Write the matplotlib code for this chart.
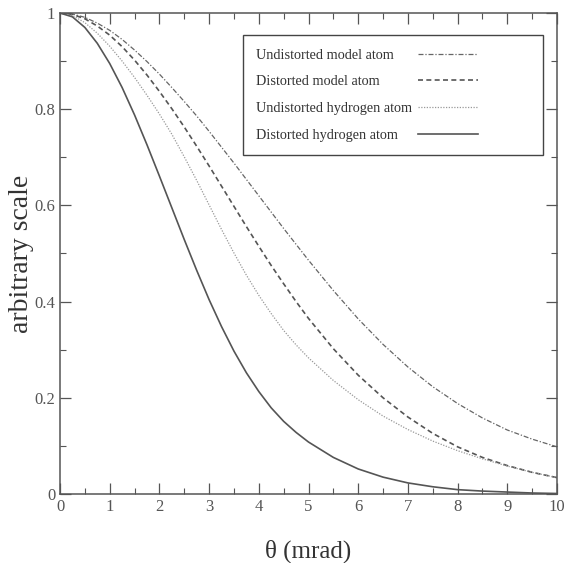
import matplotlib
matplotlib.use("Agg")
import matplotlib.pyplot as plt
from matplotlib.ticker import MultipleLocator
import numpy as np

theta = [0, 0.25, 0.5, 0.75, 1, 1.25, 1.5, 1.75, 2, 2.25, 2.5, 2.75, 3, 3.25, 3.5, 3.75,
         4, 4.25, 4.5, 4.75, 5, 5.5, 6, 6.5, 7, 7.5, 8, 8.5, 9, 9.5, 10]

undist_model = [1.0, 0.998, 0.991, 0.979, 0.964, 0.945, 0.923, 0.899, 0.873, 0.845, 0.816,
                0.786, 0.754, 0.721, 0.688, 0.654, 0.62, 0.586, 0.552, 0.519, 0.486,
                0.423, 0.364, 0.311, 0.264, 0.223, 0.188, 0.158, 0.133, 0.114, 0.098]
dist_model = [1.0, 0.997, 0.988, 0.973, 0.954, 0.93, 0.902, 0.871, 0.837, 0.801, 0.763,
              0.723, 0.682, 0.64, 0.598, 0.556, 0.515, 0.475, 0.437, 0.40, 0.365,
              0.302, 0.247, 0.20, 0.16, 0.126, 0.098, 0.076, 0.059, 0.045, 0.034]
undist_h = [1.0, 0.995, 0.98, 0.958, 0.931, 0.90, 0.866, 0.829, 0.79, 0.748, 0.701,
            0.652, 0.601, 0.55, 0.501, 0.455, 0.413, 0.375, 0.34, 0.31, 0.283,
            0.236, 0.196, 0.162, 0.134, 0.11, 0.09, 0.073, 0.058, 0.045, 0.034]
dist_h = [1.0, 0.992, 0.97, 0.937, 0.895, 0.845, 0.788, 0.726, 0.661, 0.595, 0.529,
          0.465, 0.404, 0.348, 0.297, 0.252, 0.213, 0.179, 0.151, 0.128, 0.108,
          0.076, 0.052, 0.035, 0.023, 0.015, 0.009, 0.006, 0.004, 0.002, 0.001]

labels = ["Undistorted model atom", "Distorted model atom",
          "Undistorted hydrogen atom", "Distorted hydrogen atom"]

plt.rcParams["font.family"] = ["Liberation Serif", "DejaVu Serif"]

fig = plt.figure(figsize=(5.64, 5.63), dpi=100)
ax = fig.add_axes([0.1064, 0.1226, 0.8812, 0.8543])

kw = dict(solid_joinstyle="round", dash_joinstyle="round")
l1, = ax.plot(theta, undist_model, color="#666666", lw=0.9, ls=(0, (4, 1.5, 1, 1.5)), **kw)
l2, = ax.plot(theta, dist_model, color="#555555", lw=1.2, ls=(0, (3, 2)), **kw)
l3, = ax.plot(theta, undist_h, color="#999999", lw=0.9, ls=(0, (1, 1.2)), **kw)
l4, = ax.plot(theta, dist_h, color="#555555", lw=1.2, ls="-", **kw)

ax.set_xlim(0, 10)
ax.set_ylim(0, 1)
ax.xaxis.set_major_locator(MultipleLocator(1))
ax.xaxis.set_minor_locator(MultipleLocator(0.5))
ax.yaxis.set_minor_locator(MultipleLocator(0.1))
ax.set_yticks([0, 0.2, 0.4, 0.6, 0.8, 1.0])
ax.set_yticklabels(["0", "0.2", "0.4", "0.6", "0.8", "1"])
ax.tick_params(which="both", direction="in", top=True, right=True,
               labelsize=12, labelcolor="#555555", color="#555555")
ax.tick_params(which="major", length=8, width=0.9)
ax.tick_params(which="minor", length=4, width=0.8)
for sp in ax.spines.values():
    sp.set_color("#555555")
    sp.set_linewidth(1.1)

ax.set_xlabel("θ (mrad)", fontsize=18, color="#333333", labelpad=18)
ax.set_ylabel("arbitrary scale", fontsize=20, color="#333333", labelpad=0)

# text column (left aligned, with frame)
leg = ax.legend([l1, l2, l3, l4], labels, loc="upper left",
                bbox_to_anchor=(0.368, 0.5, 0.604, 0.454), mode="expand",
                fontsize=10.3, handlelength=0, handletextpad=0, labelspacing=0.95,
                fancybox=False, framealpha=1, borderpad=0.95, borderaxespad=0)
for h in leg.legend_handles:
    h.set_visible(False)
leg.get_frame().set_edgecolor("#444444")
leg.get_frame().set_linewidth(1.0)
for t in leg.get_texts():
    t.set_color("#333333")
ax.add_artist(leg)

# line samples column
leg2 = ax.legend([l1, l2, l3, l4], [" "] * 4, loc="upper left",
                 bbox_to_anchor=(0.693, 0.954), fontsize=10.3, handlelength=4.2,
                 handletextpad=0, labelspacing=0.95, frameon=False, borderpad=0.95,
                 borderaxespad=0)

fig.savefig("out.png", dpi=100)
